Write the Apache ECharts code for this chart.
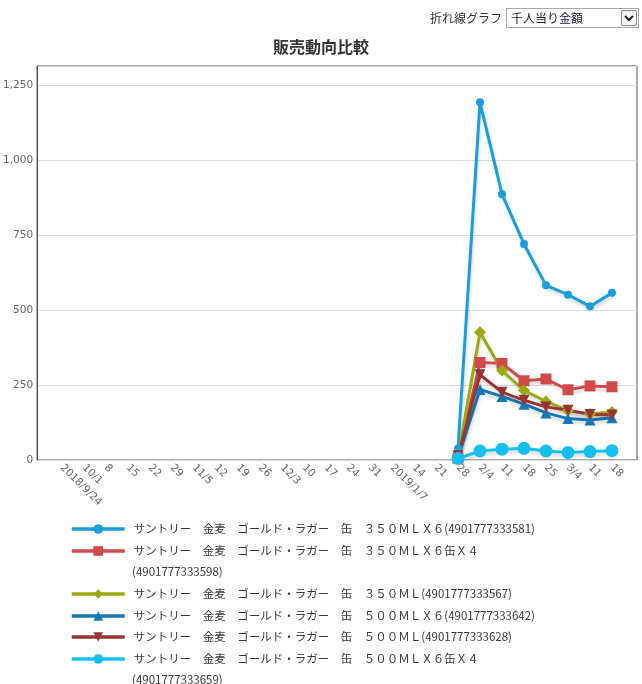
<!DOCTYPE html>
<html>
<head>
<meta charset="utf-8">
<script src="https://cdn.jsdelivr.net/npm/echarts@6/dist/echarts.min.js"></script>
<style>
html,body{margin:0;padding:0;background:#fff;}
#wrap{position:relative;width:642px;height:684px;}
#chart{position:absolute;left:0;top:0;width:642px;height:684px;}
#lbl{position:absolute;left:430px;top:9px;font:12px 'Noto Sans CJK JP',sans-serif;color:#333;line-height:18px;}
#sel{position:absolute;left:506px;top:8px;width:133px;height:20px;border:1px solid #a9a9a9;background:#fff;box-sizing:border-box;}
#selText{position:absolute;left:4px;top:0px;font:12px 'Noto Sans CJK JP',sans-serif;color:#1a1a48;line-height:18px;}
#arrow{position:absolute;right:1px;top:1px;width:16px;height:16px;border:1px solid #8a8a8a;border-radius:2px;box-sizing:border-box;background:#f4f4f4;}
</style>
</head>
<body>
<div id="wrap">
  <div id="chart"></div>
  <div id="lbl">折れ線グラフ</div>
  <div id="sel"><span id="selText">千人当り金額</span>
    <div id="arrow"><svg width="14" height="14" viewBox="0 0 14 14"><polyline points="3,5 7,9 11,5" fill="none" stroke="#222" stroke-width="2"/></svg></div>
  </div>
</div>
<script>
const categories = ['2018/9/24','10/1','8','15','22','29','11/5','12','19','26','12/3','10','17','24','31','2019/1/7','14','21','28','2/4','11','18','25','3/4','11','18'];
const seriesNames = [
  'サントリー　金麦　ゴールド・ラガー　缶　３５０ＭＬＸ６(4901777333581)',
  'サントリー　金麦　ゴールド・ラガー　缶　３５０ＭＬＸ６缶Ｘ４(4901777333598)',
  'サントリー　金麦　ゴールド・ラガー　缶　３５０ＭＬ(4901777333567)',
  'サントリー　金麦　ゴールド・ラガー　缶　５００ＭＬＸ６(4901777333642)',
  'サントリー　金麦　ゴールド・ラガー　缶　５００ＭＬ(4901777333628)',
  'サントリー　金麦　ゴールド・ラガー　缶　５００ＭＬＸ６缶Ｘ４(4901777333659)'
];
const N = null;
const s581 = [N,N,N,N,N,N,N,N,N,N,N,N,N,N,N,N,N,N, 38, 1192, 886, 720, 582, 551, 512, 557];
const s598 = [N,N,N,N,N,N,N,N,N,N,N,N,N,N,N,N,N,N, 6, 325, 322, 264, 270, 234, 247, 244];
const s567 = [N,N,N,N,N,N,N,N,N,N,N,N,N,N,N,N,N,N, 10, 426, 298, 232, 195, 165, 153, 160];
const s642 = [N,N,N,N,N,N,N,N,N,N,N,N,N,N,N,N,N,N, 8, 235, 212, 186, 157, 138, 133, 141];
const s628 = [N,N,N,N,N,N,N,N,N,N,N,N,N,N,N,N,N,N, 14, 284, 226, 199, 177, 166, 152, 150];
const s659 = [N,N,N,N,N,N,N,N,N,N,N,N,N,N,N,N,N,N, 5, 30, 36, 39, 30, 25, 28, 31];
const yTicks = [0, 250, 500, 750, 1000, 1250];

const seriesData = [s581, s598, s567, s642, s628, s659];
const colors = ['#1b9fdc', '#d04a4a', '#9aab12', '#1878b5', '#9a3333', '#15bfee'];
const symbols = ['circle', 'rect', 'diamond', 'triangle', 'path://M0,0 L10,0 L5,9 Z', 'circle'];
const symbolSizes = [8, 11, 12, 11, 11, 13];
const legendCenters = [529, 551, 594, 616, 637, 659];
const twoLine = [false, true, false, false, false, true];
const LINE_H = 21;

const YMAX = 1313;
const chart = echarts.init(document.getElementById('chart'), null, {renderer: 'canvas'});

const legendText = {fontFamily: 'Noto Sans CJK JP', fontSize: 11.5, color: '#3a3a3a', lineHeight: 20, padding: [0, 0, 0, 4]};
const legends = [];
seriesNames.forEach((name, i) => {
  const cut = name.indexOf('(');
  legends.push({
    orient: 'vertical', left: 70, top: legendCenters[i] - 10, padding: 0,
    itemWidth: 53, itemHeight: 12, data: [name],
    lineStyle: {width: 3.5},
    formatter: n => twoLine[i] ? n.slice(0, cut) : n,
    textStyle: legendText
  });
  if (twoLine[i]) {
    legends.push({
      orient: 'vertical', left: 123, top: legendCenters[i] + LINE_H - 10, padding: 0,
      itemWidth: 0, itemHeight: 0, data: [name],
      itemStyle: {color: 'rgba(0,0,0,0)', borderWidth: 0},
      lineStyle: {color: 'rgba(0,0,0,0)', width: 0},
      formatter: n => n.slice(cut),
      textStyle: legendText
    });
  }
});

const option = {
  animation: false,
  color: colors,
  title: {
    text: '販売動向比較',
    left: 'center',
    top: 34,
    textStyle: {fontFamily: 'Noto Sans CJK JP', fontSize: 16, fontWeight: 'bold', color: '#333'}
  },
  legend: legends,
  grid: [
    {left: 34, right: 5, top: 66, bottom: 224, show: true, borderColor: '#555', borderWidth: 1, containLabel: false},
    {left: 62, right: 30, top: 66, bottom: 224, containLabel: false}
  ],
  xAxis: [
    {type: 'value', gridIndex: 0, show: false, min: 0, max: 1},
    {
      type: 'category', gridIndex: 1, data: categories, boundaryGap: false,
      axisLine: {show: false}, axisTick: {show: false}, splitLine: {show: false},
      axisLabel: {rotate: -45, interval: 0, margin: 6, color: '#666', fontFamily: 'DejaVu Sans', fontSize: 10.5}
    }
  ],
  yAxis: [
    {
      type: 'value', gridIndex: 0, min: yTicks[0], max: YMAX, interval: yTicks[1] - yTicks[0],
      axisLine: {show: true, lineStyle: {color: '#555', width: 1}},
      axisTick: {show: false},
      splitLine: {show: true, lineStyle: {color: '#dcdcdc', width: 1}},
      axisLabel: {showMaxLabel: false, margin: 4, color: '#666', fontFamily: 'DejaVu Sans', fontSize: 10.5}
    },
    {type: 'value', gridIndex: 1, min: yTicks[0], max: YMAX, show: false, splitLine: {show: false}}
  ],
  series: seriesData.map((d, i) => ({
    name: seriesNames[i],
    type: 'line',
    xAxisIndex: 1,
    yAxisIndex: 1,
    data: d,
    symbol: symbols[i],
    symbolSize: symbolSizes[i],
    showAllSymbol: true,
    connectNulls: false,
    itemStyle: {color: colors[i]},
    lineStyle: {width: 3, color: colors[i], shadowColor: 'rgba(0,0,0,0.15)', shadowBlur: 3, shadowOffsetX: 1, shadowOffsetY: 3}
  }))
};
chart.setOption(option);
</script>
</body>
</html>
